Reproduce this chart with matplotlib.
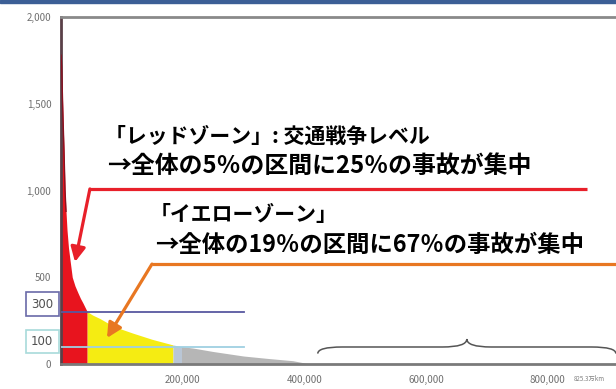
import matplotlib
matplotlib.use("Agg")
import matplotlib.pyplot as plt
from matplotlib.patches import Rectangle, PathPatch
from matplotlib.path import Path

plt.rcParams['font.family'] = ['Noto Sans CJK JP', 'DejaVu Sans']

# accidents per section, sections sorted by accident count
sec_km = [0, 1000, 1600, 2500, 3700, 4900, 6600, 8200, 9900, 12300, 14800, 18500,
          23000, 28000, 32000, 36000, 43000,
          52000, 64000, 80000, 100000, 118000, 150000, 184000, 198000, 217000, 250000,
          300000, 340000, 381000, 406000, 500000, 825300]
acc = [1780, 1720, 1650, 1522, 1370, 1233, 1003, 880, 772, 670, 600, 500,
       450, 409, 378, 352, 302,
       282, 262, 230, 200, 178, 142, 110, 100, 92, 72,
       46, 32, 19, 2, 0, 0]

red_end = 43000
yellow_end = 184000
band_end = 198000
total_len = 825300

x_ticks = [200000, 400000, 600000, 800000]
x_labels = ["200,000", "400,000", "600,000", "800,000"]
y_ticks = [0, 500, 1000, 1500, 2000]
y_labels = ["0", "500", "1,000", "1,500", "2,000"]
level_lines = [300, 100]

W, H = 616, 389
fig = plt.figure(figsize=(W / 100, H / 100), dpi=100)
fig.patches.append(Rectangle((0, 1 - 2.5 / H), 1, 2.5 / H, transform=fig.transFigure,
                             color="#3c5f96", zorder=5))
ax = fig.add_axes([61 / W, (H - 364) / H, (639 - 61) / W, (364 - 17) / H])
ax.set_xlim(0, 950000)
ax.set_ylim(0, 2000)


def part(x0, x1):
    xs, ys = [], []
    for i in range(len(sec_km)):
        if x0 <= sec_km[i] <= x1:
            xs.append(sec_km[i])
            ys.append(acc[i])
    return xs, ys


xs, ys = part(0, red_end)
ax.fill_between(xs, ys, color="#e8141e", lw=0, zorder=2)
ax.plot(xs[:8], ys[:8], color="#8a1020", lw=1.0, zorder=3)
xs, ys = part(red_end, yellow_end)
ax.fill_between(xs, ys, color="#f5ec12", lw=0, zorder=2)
xs, ys = part(yellow_end, band_end)
ax.fill_between(xs, ys, color="#b9c6d6", lw=0, zorder=2)
xs, ys = part(band_end, total_len)
ax.fill_between(xs, ys, color="#b6b6b6", lw=0, zorder=2)

ax.plot([0, 300000], [level_lines[0]] * 2, color="#5858a0", lw=1.3, zorder=4)
ax.plot([0, 300000], [level_lines[1]] * 2, color="#9fd0e2", lw=1.3, zorder=4)

ax.spines["right"].set_visible(False)
ax.spines["top"].set_color("#8a8a8a")
ax.spines["top"].set_linewidth(2)
ax.spines["left"].set_color("#5a4048")
ax.spines["left"].set_linewidth(2)
ax.spines["bottom"].set_color("#7a7a7a")
ax.spines["bottom"].set_linewidth(2)

ax.set_xticks(x_ticks)
ax.set_xticklabels(x_labels)
ax.set_yticks(y_ticks)
ax.set_yticklabels(y_labels)
ax.tick_params(length=0, labelsize=7, labelcolor="#707070")
ax.tick_params(axis="x", pad=8)
ax.tick_params(axis="y", pad=7)

# boxed level labels
ax.text(-0.0135, 345, "300", transform=ax.get_yaxis_transform(), ha="right", va="center",
        fontsize=8.5, color="#505050", family="DejaVu Sans",
        bbox=dict(boxstyle="square,pad=0.45", fc="white", ec="#6a6aa8", lw=1.2))
ax.text(-0.0135, 130, "100", transform=ax.get_yaxis_transform(), ha="right", va="center",
        fontsize=8.5, color="#505050", family="DejaVu Sans",
        bbox=dict(boxstyle="square,pad=0.45", fc="white", ec="#a8dada", lw=1.2))
ax.text(868000, -85, "825.3万km", fontsize=4.5, color="#808080", ha="center", va="center")

# curly brace over the long tail
bx0, bx1, bc = 422000, 912000, 667000
by_end, by_mid, by_peak = 60, 98, 144
d = 40000
verts = [(bx0, by_end), (bx0, by_mid), (bx0 + d, by_mid), (bc - d, by_mid),
         (bc, by_mid), (bc, by_peak), (bc, by_mid), (bc + d, by_mid),
         (bx1 - d, by_mid), (bx1, by_mid), (bx1, by_end)]
codes = [Path.MOVETO, Path.CURVE3, Path.CURVE3, Path.LINETO,
         Path.CURVE3, Path.CURVE3, Path.CURVE3, Path.CURVE3,
         Path.LINETO, Path.CURVE3, Path.CURVE3]
ax.add_patch(PathPatch(Path(verts, codes), fc="none", ec="#555555", lw=1.1, zorder=4,
                       clip_on=False))

# callouts
ax.plot([47500, 864000], [1009, 1009], color="#e8202a", lw=2.3, solid_capstyle="butt", zorder=6)
ax.annotate("", xy=(23000, 588), xytext=(47500, 1009),
            arrowprops=dict(arrowstyle="-|>", color="#e8202a", lw=2.3, mutation_scale=22,
                            shrinkA=0, shrinkB=0), zorder=6)
ax.plot([149500, 950000], [576, 576], color="#e87722", lw=2.3, solid_capstyle="butt", zorder=6)
ax.annotate("", xy=(75600, 150), xytext=(149500, 576),
            arrowprops=dict(arrowstyle="-|>", color="#e87722", lw=2.3, mutation_scale=22,
                            shrinkA=0, shrinkB=0), zorder=6)

tkw = dict(fontweight="bold", color="black", va="center", ha="left", zorder=7)
ax.text(72000, 1314, "「レッドゾーン」: 交通戦争レベル", fontsize=15, **tkw)
ax.text(75600, 1141, "→全体の5％の区間に25％の事故が集中", fontsize=17.2, **tkw)
ax.text(146000, 859, "「イエローゾーン」", fontsize=15, **tkw)
ax.text(154500, 686, "→全体の19％の区間に67％の事故が集中", fontsize=16.8, **tkw)

fig.savefig("out.png", dpi=100, facecolor="white")
